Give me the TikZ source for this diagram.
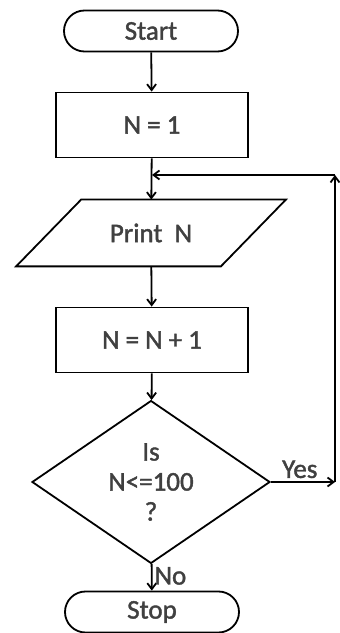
\documentclass[tikz,border=0pt]{standalone}
\usepackage{fontspec}
\setmainfont{Carlito}
\newfontfamily\chartfont{Carlito}[FakeBold=1.5]
\usetikzlibrary{arrows.meta,shapes.geometric,shapes.misc}

\begin{document}
\begin{tikzpicture}[x=1pt,y=1pt,>={Straight Barb[length=6pt,width=9pt]},
  line width=1.8pt,
  every node/.style={font=\chartfont\fontsize{27}{30}\selectfont,text=black!75},
  term/.style={draw,rounded rectangle,minimum width=174pt,minimum height=41pt,inner sep=0pt},
  proc/.style={draw,rectangle,minimum width=192pt,minimum height=65pt,inner sep=0pt},
  io/.style={rectangle,minimum width=203pt,minimum height=65pt,inner sep=0pt},
  decide/.style={draw,diamond,minimum width=238pt,minimum height=136pt,inner sep=0pt,align=center}]
\useasboundingbox (0,0) rectangle (340,633);

\node[term] (start) at (151,602) {Start};
\node[proc] (init) at (152,508) {N = 1};
\node[io] (print) at (151,400) {Print\ \ N};
\draw ([xshift=-32.5pt]print.south west) -- ([xshift=-32.5pt]print.south east)
  -- ([xshift=32.5pt]print.north east) -- ([xshift=32.5pt]print.north west) -- cycle;
\node[proc] (incr) at (152,293) {N = N + 1};
\node[decide] (test) at (151,151) {Is\\N<=100\\?};
\node[term] (stop) at (152,21) {Stop};

\coordinate (yes) at (335,151);
\coordinate (top) at (335,458);
\coordinate (join) at (152,458);

\draw[->] (start) -- (init);
\draw[->] (init) -- (print);
\draw[->] (print) -- (incr);
\draw[->] (incr) -- (test);
\draw[->] (test) -- (stop) node[pos=0.45,right,inner sep=2pt] {No};

\draw[->] (test.east) -- (yes) node[pos=0.45,above,inner sep=3pt] {Yes};
\draw[->] (yes) -- (top);
\draw[->] (top) -- (join);
\end{tikzpicture}
\end{document}
